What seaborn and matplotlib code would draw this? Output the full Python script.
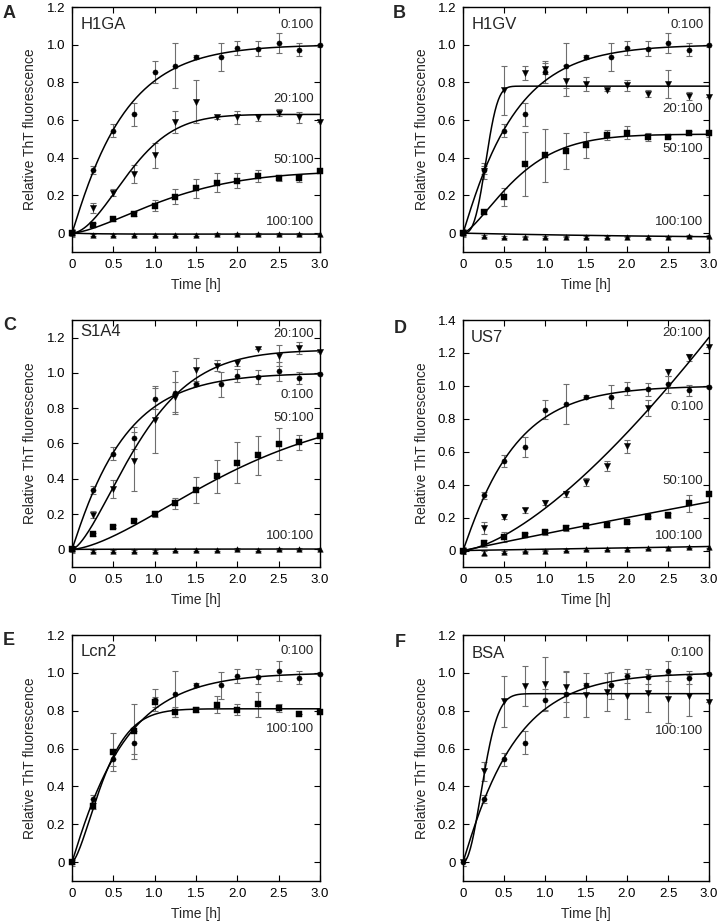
import numpy as np
import pandas as pd
import seaborn as sns
import matplotlib.pyplot as plt

# time points [h]
TIME = [0, 0.25, 0.5, 0.75, 1.0, 1.25, 1.5, 1.75, 2.0, 2.25, 2.5, 2.75, 3.0]
TIME_CTRL = [0, 0.25, 0.5, 0.75, 1.0, 1.25, 1.5, 1.8, 2.0, 2.25, 2.5, 2.75, 3.0]

# 0:100 (same control in every panel); fit = (plateau, tau, n)
CTRL_Y = [0, 0.335, 0.543, 0.631, 0.855, 0.889, 0.935, 0.935, 0.984, 0.979, 1.009, 0.974, 0.996]
CTRL_ERR = [0.02, 0.022, 0.035, 0.06, 0.057, 0.12, 0.01, 0.072, 0.038, 0.04, 0.053, 0.034, 0.01]
CTRL_FIT = [1.0, 0.62, 1.05]

# A  H1GA
A_20_Y = [0, 0.132, 0.215, 0.314, 0.414, 0.59, 0.697, 0.614, 0.614, 0.614, 0.64, 0.614, 0.59]
A_20_ERR = [0.01, 0.026, 0.02, 0.05, 0.066, 0.06, 0.115, 0.008, 0.035, 0.02, 0.02, 0.03, 0]
A_20_FIT = [0.63, 0.834, 1.8]
A_50_Y = [0, 0.044, 0.074, 0.102, 0.146, 0.194, 0.238, 0.268, 0.277, 0.303, 0.291, 0.291, 0.33]
A_50_ERR = [0.01, 0.01, 0.008, 0.01, 0.03, 0.04, 0.05, 0.05, 0.04, 0.03, 0.015, 0.02, 0.01]
A_50_FIT = [0.33, 1.35, 1.5]
A_100_Y = [0, -0.01, -0.012, -0.01, -0.01, -0.008, -0.008, -0.006, -0.004, -0.003, -0.005, -0.006, -0.005]
A_100_ERR = [0.005] * 13
A_100_FIT = [-0.005, 0.3, 1.0]

# B  H1GV
B_20_Y = [0, 0.33, 0.758, 0.85, 0.873, 0.81, 0.79, 0.758, 0.785, 0.74, 0.79, 0.727, 0.72]
B_20_ERR = [0.01, 0.04, 0.13, 0.035, 0.03, 0.08, 0.037, 0.005, 0.03, 0.02, 0.075, 0.02, 0]
B_20_FIT = [0.78, 0.32, 2.9]
B_50_Y = [0, 0.111, 0.194, 0.365, 0.414, 0.436, 0.467, 0.52, 0.534, 0.511, 0.511, 0.534, 0.529]
B_50_ERR = [0.01, 0.008, 0.048, 0.17, 0.14, 0.095, 0.07, 0.025, 0.035, 0.02, 0.008, 0.008, 0.02]
B_50_FIT = [0.525, 0.758, 1.4]
B_100_Y = [0, -0.015, -0.02, -0.018, -0.02, -0.018, -0.02, -0.02, -0.018, -0.02, -0.018, -0.015, -0.015]
B_100_ERR = [0.005] * 13
B_100_FIT = [-0.03, 3.0, 1.0]

# C  S1A4
C_20_Y = [0, 0.195, 0.341, 0.498, 0.735, 0.862, 1.019, 1.042, 1.057, 1.133, 1.098, 1.142, 1.117]
C_20_ERR = [0.01, 0.02, 0.05, 0.17, 0.19, 0.085, 0.065, 0.03, 0.015, 0, 0.06, 0.035, 0]
C_20_FIT = [1.13, 0.96, 1.5]
C_50_Y = [0, 0.085, 0.129, 0.161, 0.2, 0.261, 0.337, 0.413, 0.492, 0.532, 0.598, 0.606, 0.64]
C_50_ERR = [0.01, 0.01, 0.01, 0.01, 0.015, 0.03, 0.075, 0.095, 0.115, 0.11, 0.09, 0.045, 0]
C_50_FIT = [0.8, 2.23, 1.55]
C_100_Y = [0, -0.01, -0.01, -0.01, -0.008, -0.005, -0.005, -0.003, 0.0, -0.005, 0.002, 0.003, 0.0]
C_100_ERR = [0.005] * 13
C_100_FIT = [0.002, 1.0, 1.0]

# D  US7
D_20_Y = [0, 0.137, 0.204, 0.245, 0.29, 0.343, 0.418, 0.514, 0.633, 0.867, 1.082, 1.173, 1.235]
D_20_ERR = [0.01, 0.035, 0.015, 0.015, 0.015, 0.02, 0.025, 0.03, 0.04, 0.05, 0.02, 0.02, 0]
D_20_FIT = [20.0, 18.2, 1.5]
D_50_Y = [0, 0.043, 0.082, 0.096, 0.112, 0.137, 0.147, 0.157, 0.173, 0.204, 0.214, 0.286, 0.341]
D_50_ERR = [0.01, 0.02, 0.03, 0.01, 0.015, 0.02, 0.01, 0.015, 0.008, 0.008, 0.015, 0.05, 0]
D_50_FIT = [3.0, 29.0, 1.0]
D_100_Y = [0, -0.015, -0.008, -0.005, 0.0, 0.002, 0.008, 0.01, 0.01, 0.015, 0.018, 0.022, 0.022]
D_100_ERR = [0.01, 0.015, 0.005, 0.005, 0.005, 0.005, 0.005, 0.005, 0.005, 0.005, 0.005, 0.005, 0.005]
D_100_FIT = [0.5, 60.0, 1.0]

# E  Lcn2
E_100_Y = [0, 0.296, 0.582, 0.691, 0.847, 0.794, 0.806, 0.832, 0.806, 0.834, 0.815, 0.78, 0.794]
E_100_ERR = [0.01, 0.015, 0.1, 0.145, 0.025, 0.025, 0.015, 0.045, 0.03, 0.065, 0.02, 0, 0]
E_100_FIT = [0.81, 0.449, 1.5]

# F  BSA
F_100_Y = [0, 0.479, 0.849, 0.93, 0.942, 0.924, 0.884, 0.901, 0.877, 0.894, 0.863, 0.88, 0.845]
F_100_ERR = [0.02, 0.05, 0.135, 0.107, 0.14, 0.08, 0.117, 0.1, 0.12, 0.1, 0.13, 0.11, 0]
F_100_FIT = [0.89, 0.299, 2.06]

# marker sizes (points^2)
MSIZE = {"o": 14, "v": 20, "s": 16, "^": 16}


def weibull(t, p, tau, n):
    return p * (1 - np.exp(-(t / tau) ** n))


# panel: letter, title, ymax, title y, series (label, marker, x, y, err, fit, label y)
PANELS = [
    ("A", "H1GA", 1.2, 1.107,
     [("0:100", "o", TIME_CTRL, CTRL_Y, CTRL_ERR, CTRL_FIT, 1.107),
      ("20:100", "v", TIME, A_20_Y, A_20_ERR, A_20_FIT, 0.71),
      ("50:100", "s", TIME, A_50_Y, A_50_ERR, A_50_FIT, 0.388),
      ("100:100", "^", TIME, A_100_Y, A_100_ERR, A_100_FIT, 0.058)]),
    ("B", "H1GV", 1.2, 1.107,
     [("0:100", "o", TIME_CTRL, CTRL_Y, CTRL_ERR, CTRL_FIT, 1.107),
      ("20:100", "v", TIME, B_20_Y, B_20_ERR, B_20_FIT, 0.657),
      ("50:100", "s", TIME, B_50_Y, B_50_ERR, B_50_FIT, 0.446),
      ("100:100", "^", TIME, B_100_Y, B_100_ERR, B_100_FIT, 0.058)]),
    ("C", "S1A4", 1.3, 1.237,
     [("0:100", "o", TIME_CTRL, CTRL_Y, CTRL_ERR, CTRL_FIT, 0.877),
      ("20:100", "v", TIME, C_20_Y, C_20_ERR, C_20_FIT, 1.223),
      ("50:100", "s", TIME, C_50_Y, C_50_ERR, C_50_FIT, 0.744),
      ("100:100", "^", TIME, C_100_Y, C_100_ERR, C_100_FIT, 0.078)]),
    ("D", "US7", 1.4, 1.296,
     [("0:100", "o", TIME_CTRL, CTRL_Y, CTRL_ERR, CTRL_FIT, 0.871),
      ("20:100", "v", TIME, D_20_Y, D_20_ERR, D_20_FIT, 1.322),
      ("50:100", "s", TIME, D_50_Y, D_50_ERR, D_50_FIT, 0.422),
      ("100:100", "^", TIME, D_100_Y, D_100_ERR, D_100_FIT, 0.09)]),
    ("E", "Lcn2", 1.2, 1.111,
     [("0:100", "o", TIME_CTRL, CTRL_Y, CTRL_ERR, CTRL_FIT, 1.116),
      ("100:100", "s", TIME, E_100_Y, E_100_ERR, E_100_FIT, 0.702)]),
    ("F", "BSA", 1.2, 1.10,
     [("0:100", "o", TIME_CTRL, CTRL_Y, CTRL_ERR, CTRL_FIT, 1.106),
      ("100:100", "v", TIME, F_100_Y, F_100_ERR, F_100_FIT, 0.692)]),
]

# axes boxes in pixels (left, top, right, bottom) of a 719x922 canvas
BOXES = [(72, 7, 320, 252), (463, 7, 709, 252),
         (72, 320, 320, 567), (463, 320, 709, 567),
         (72, 635, 320, 881), (463, 635, 709, 881)]
LETTER_POS = [(3, 18), (393, 18), (3, 330), (394, 333), (3, 645), (395, 647)]

W, H = 719, 922
sns.set_theme(style="ticks")
plt.rcParams["font.family"] = ["Liberation Sans", "DejaVu Sans"]

fig = plt.figure(figsize=(W / 100, H / 100), dpi=100)
tt = np.linspace(0, 3, 301)

for (letter, title, ymax, ty, series), box, lp in zip(PANELS, BOXES, LETTER_POS):
    l, t, r, b = box
    ax = fig.add_axes([l / W, 1 - b / H, (r - l) / W, (b - t) / H])

    for lab, mk, x, y, err, fit, ly in series:
        curve = pd.DataFrame({"t": tt, "y": weibull(tt, *fit)})
        sns.lineplot(data=curve, x="t", y="y", color="black", lw=1.1, ax=ax,
                     legend=False, zorder=2)
        ax.errorbar(x, y, yerr=err, fmt="none", ecolor="#6e6e6e",
                    elinewidth=0.8, capsize=2.2, capthick=0.8, zorder=1)
        pts = pd.DataFrame({"t": x, "y": y})
        sns.scatterplot(data=pts, x="t", y="y", marker=mk, s=MSIZE[mk],
                        color="black", edgecolor="black", linewidth=0.3, ax=ax,
                        legend=False, zorder=3, clip_on=False)
        ax.text(2.93, ly, lab, ha="right", va="center", fontsize=9.5)

    ax.text(0.1, ty, title, ha="left", va="center", fontsize=12)

    ax.set_xlim(0, 3)
    ax.set_ylim(-0.1, ymax)
    xt = np.arange(0, 3.01, 0.5)
    ax.set_xticks(xt)
    ax.set_xticklabels(["0"] + [f"{v:.1f}" for v in xt[1:]])
    yt = np.arange(0, ymax + 0.001, 0.2)
    ax.set_yticks(yt)
    ax.set_yticklabels(["0"] + [f"{v:.1f}" for v in yt[1:]])
    ax.tick_params(direction="in", top=True, right=True, length=4, width=0.8,
                   labelsize=9.5, pad=5, colors="black")
    for sp in ax.spines.values():
        sp.set_linewidth(1.0)
        sp.set_color("black")
        sp.set_visible(True)
    ax.set_xlabel("Time [h]", fontsize=10)
    ax.set_ylabel("Relative ThT fluorescence", fontsize=10)
    ax.xaxis.set_label_coords(0.5, -0.105)
    ax.yaxis.set_label_coords(-0.14, 0.5)

    fig.text(lp[0] / W, 1 - lp[1] / H, letter, fontsize=13, fontweight="bold",
             ha="left", va="baseline")

fig.savefig("out.png", dpi=100)
